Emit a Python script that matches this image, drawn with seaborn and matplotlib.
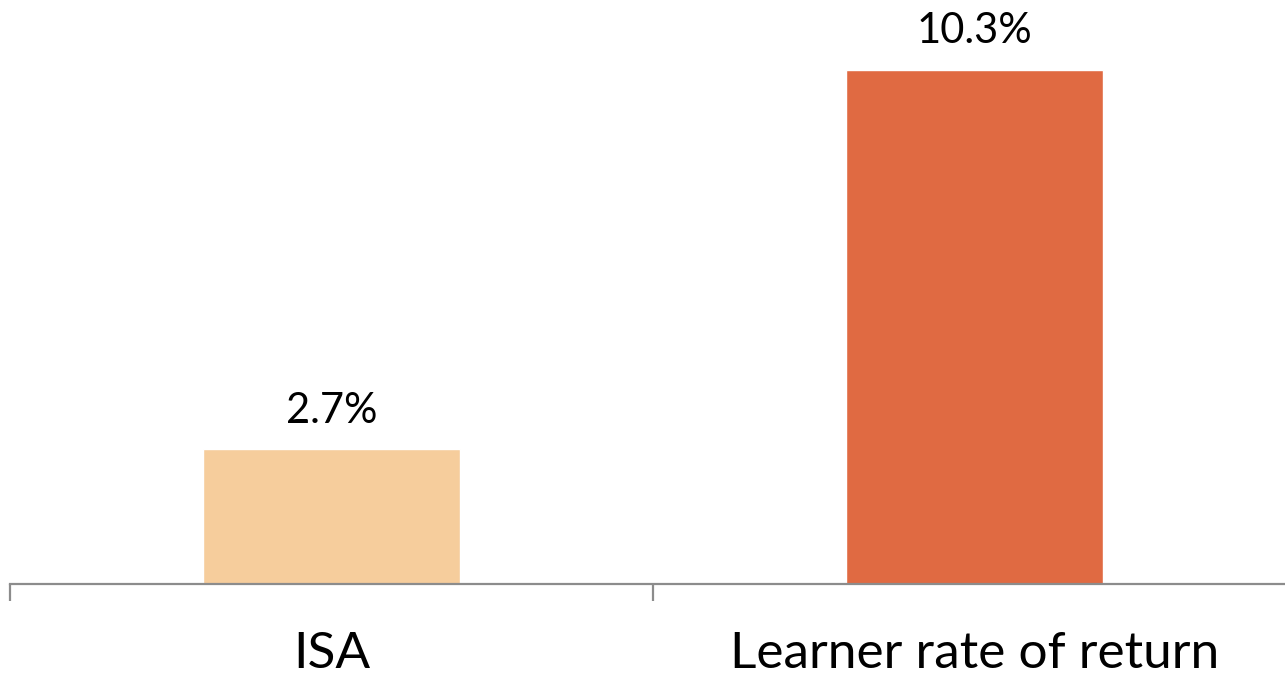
import matplotlib
matplotlib.use("Agg")
import matplotlib.pyplot as plt
import seaborn as sns
import pandas as pd
from matplotlib.ticker import FixedLocator

# ── Data ───────────────────────────────────────────────────────────────────────
categories = ["ISA", "Learner rate of return"]
values = [2.7, 10.3]
value_labels = ["2.7%", "10.3%"]
bar_colors = ["#F6CD9C", "#E06A42"]

df = pd.DataFrame({"category": categories, "value": values})

# ── Plot ───────────────────────────────────────────────────────────────────────
sns.set_style("white")
plt.rcParams["font.family"] = ["Lato", "DejaVu Sans"]

fig = plt.figure(figsize=(12.85, 6.76), dpi=100)
ax = fig.add_axes([10 / 1285, 92 / 676, 1286 / 1285, 574 / 676])

sns.barplot(data=df, x="category", y="value", hue="category",
            palette=bar_colors, width=0.4, legend=False, ax=ax,
            saturation=1)

ax.set_ylim(0, 11.5)
ax.set_xlim(-0.5, 1.5)
ax.set_xlabel("")
ax.set_ylabel("")
ax.set_yticks([])

for side in ["top", "right", "left"]:
    ax.spines[side].set_visible(False)
ax.spines["bottom"].set_color("#8c8c8c")
ax.spines["bottom"].set_linewidth(1.6)

# ticks at the category boundaries, labels at the centres
ax.xaxis.set_major_locator(FixedLocator([-0.5, 0.5, 1.5]))
ax.set_xticklabels(["", "", ""])
ax.tick_params(axis="x", which="major", bottom=True, length=12, width=1.6,
               color="#8c8c8c", direction="out")
ax.xaxis.set_minor_locator(FixedLocator([0, 1]))
ax.set_xticklabels(categories, minor=True)
ax.tick_params(axis="x", which="minor", bottom=True, length=0, pad=34,
               labelsize=37, labelcolor="black")

for container, lbl in zip(ax.containers, value_labels):
    ax.bar_label(container, labels=[lbl], padding=14, fontsize=30,
                 color="black")

fig.savefig("out.png", dpi=100)
